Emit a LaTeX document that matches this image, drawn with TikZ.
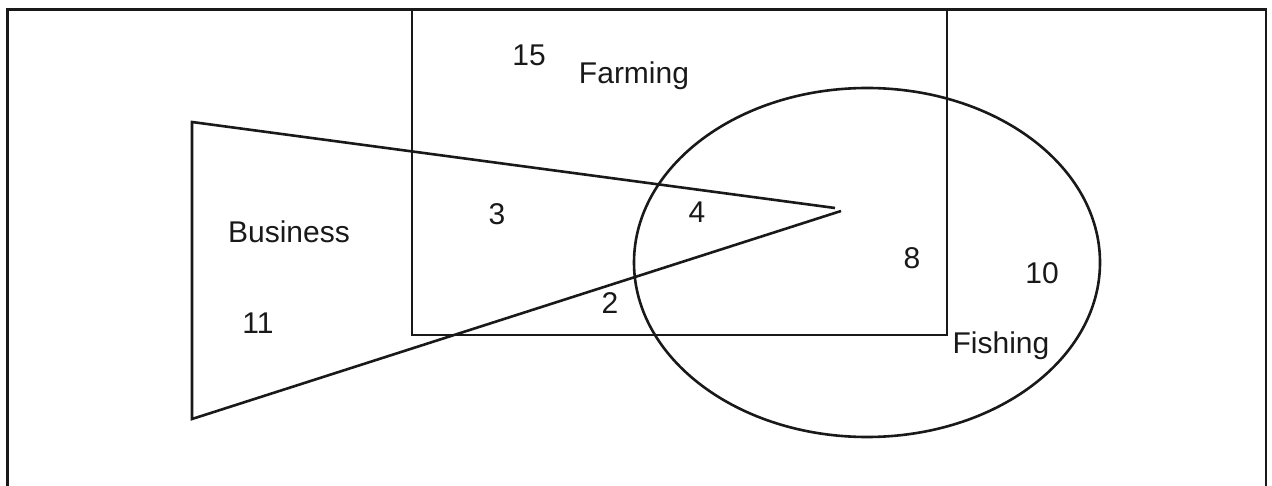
\documentclass[tikz,border=0pt]{standalone}
\usepackage{fontspec}
\setmainfont{Liberation Sans}
\begin{document}
\begin{tikzpicture}[x=1pt,y=-1pt,
  shape line/.style={line width=2.6pt,draw=black!90},
  lbl/.style={font=\fontsize{30}{35}\selectfont,inner sep=0pt,text=black!90}]
\useasboundingbox (0,0) rectangle (1272,486);
\begin{scope}
\clip (0,0) rectangle (1272,486);
\draw[shape line] (7.5,9.5) rectangle (1266,500);
\end{scope}
\draw[shape line] (412,9.5) rectangle (947,335);
\draw[shape line] (867,262.5) ellipse [x radius=233, y radius=174.5];
\coordinate (tA) at (835,208);
\coordinate (tB) at (841,211);
\coordinate (tTop) at (192,122);
\coordinate (tBot) at (192,419);
\draw[shape line,line join=miter] (tA) -- (tTop) -- (tBot) -- (tB);
\node[lbl] (n15) at (529,55) {15};
\node[lbl] (farming) at (634,76) {Farming};
\node[lbl] (business) at (289,232) {Business};
\node[lbl] (n11) at (258,323) {11};
\node[lbl] (n3) at (497,214) {3};
\node[lbl] (n4) at (697,212) {4};
\node[lbl] (n8) at (912,258) {8};
\node[lbl] (n10) at (1042,273) {10};
\node[lbl] (n2) at (610,303) {2};
\node[lbl] (fishing) at (1001,346) {Fishing};
\end{tikzpicture}
\end{document}
